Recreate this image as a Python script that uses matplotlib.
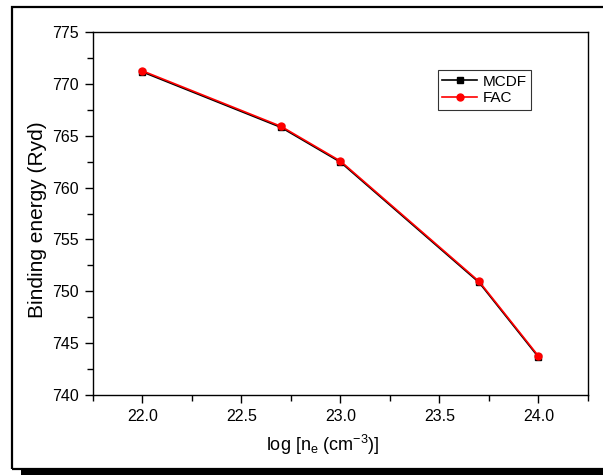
import numpy as np
import matplotlib.pyplot as plt
from matplotlib.patches import Rectangle
from matplotlib.ticker import MultipleLocator

plt.rcParams['font.family'] = ['Liberation Sans', 'DejaVu Sans']

# electron density (log) and binding energies
log_ne = [22.0, 22.7, 23.0, 23.7, 24.0]
mcdf = [771.15, 765.80, 762.45, 750.85, 743.65]
fac = [771.25, 765.90, 762.55, 750.95, 743.75]

fig = plt.figure(figsize=(6.03, 4.75), dpi=100)

# outer frame with drop shadow
fig.patches.append(Rectangle((21/603, 0), 1.0, 6.5/475, transform=fig.transFigure,
                             facecolor='black', edgecolor='none', zorder=0))
fig.patches.append(Rectangle((11.5/603, 6.5/475), 1.0, 461.5/475, transform=fig.transFigure,
                             facecolor='none', edgecolor='black', lw=1.6, zorder=1))

ax = fig.add_axes([93/603, 80/475, 495/603, 363/475])
ax.plot(log_ne, mcdf, color='black', lw=1.2, marker='s', ms=5, label='MCDF')
ax.plot(log_ne, fac, color='red', lw=1.2, marker='o', ms=5, label='FAC')

ax.set_xlim(21.75, 24.25)
ax.set_ylim(740, 775)
ax.xaxis.set_major_locator(MultipleLocator(0.5))
ax.xaxis.set_minor_locator(MultipleLocator(0.25))
ax.yaxis.set_major_locator(MultipleLocator(5))
ax.yaxis.set_minor_locator(MultipleLocator(2.5))
ax.xaxis.set_major_formatter(plt.FormatStrFormatter('%.1f'))
ax.tick_params(which='major', direction='out', length=6, width=1, labelsize=11.5, pad=4)
ax.tick_params(which='minor', direction='out', length=4, width=1)
for s in ax.spines.values():
    s.set_linewidth(1)

ax.set_xlabel('log [n$_\\mathregular{e}$ (cm$^\\mathregular{-3}$)]', fontsize=13)
ax.set_ylabel('Binding energy (Ryd)', fontsize=15)
ax.xaxis.set_label_coords(0.465, -0.105)
ax.yaxis.set_label_coords(-0.093, 0.482)

leg = ax.legend(loc='upper left', bbox_to_anchor=(0.696, 0.895), fontsize=11,
                frameon=True, fancybox=False, edgecolor='black', handlelength=2.3,
                borderpad=0.3, labelspacing=0.15, handletextpad=0.35, borderaxespad=0)
leg.get_frame().set_linewidth(0.8)

plt.savefig('out.png', dpi=100)
